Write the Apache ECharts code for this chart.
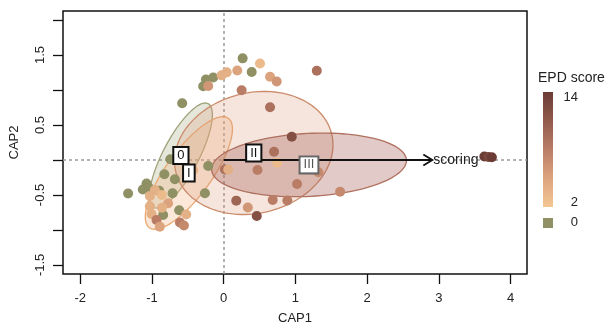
<!DOCTYPE html>
<html><head><meta charset="utf-8">
<script src="https://cdn.jsdelivr.net/npm/echarts@6/dist/echarts.min.js"></script>
<style>html,body{margin:0;padding:0;background:#fff}#c{width:608px;height:333px}</style>
</head><body><div id="c"></div>
<script>
// ---- data ----
const xTicks = [-2, -1, 0, 1, 2, 3, 4];
const yTicks = [-1.5, -1, -0.5, 0, 0.5, 1, 1.5, 2];
const yTickLabels = [-1.5, -0.5, 0.5, 1.5];

// EPD score 0 samples
const cap1Zero = [0.265, 0.391, -0.145, -0.247, -0.285, -0.578, -0.743, -0.827, -0.680, -0.492, -0.215, -1.332, -1.075, -1.127, -1.043, -0.899, -0.712, -0.261, -0.620, -0.844];
const cap2Zero = [1.453, 1.257, 1.179, 1.150, 1.053, 0.810, 0.010, -0.204, -0.276, -0.193, -0.086, -0.479, -0.336, -0.421, -0.393, -0.440, -0.476, -0.476, -0.719, -0.786];

// EPD score >= 2 samples
const cap1Scored = [0.507, 0.190, 0.042, -0.028, -0.215, 0.647, 0.740, 0.251, 1.299, 0.647, 0.950, 0.703, 0.749, 0.472, 0.018, 0.064, 1.321, 1.024, 1.624, 0.176, 0.337, 0.684, 0.888, 0.462, 3.635, 3.691, 3.740, -0.425, -0.959, -1.029, -0.862, -0.774, -1.029, -0.859, -1.006, -0.522, -0.936, -0.890, -0.610, -0.554];
const cap2Scored = [1.379, 1.279, 1.253, 1.210, 1.057, 1.190, 1.121, 0.996, 1.276, 0.753, 0.333, 0.119, -0.039, -0.143, -0.136, -0.136, -0.176, -0.343, -0.453, -0.581, -0.679, -0.571, -0.579, -0.800, 0.050, 0.043, 0.039, -0.143, -0.429, -0.514, -0.500, -0.619, -0.661, -0.683, -0.771, -0.779, -0.857, -0.953, -0.893, -0.936];
const epdScore   = [3, 5, 4, 4, 6, 5, 6, 8, 9, 9, 12, 9, 3, 8, 9, 4, 7, 8, 7, 10, 6, 8, 8, 12, 14, 13, 14, 4, 4, 4, 3, 5, 4, 4, 4, 4, 8, 5, 8, 7];

// group ellipses (centre, semi-axes, rotation in degrees)
const groupNames   = ['0', 'I', 'II', 'III'];
const ellipseCx    = [-0.596, -0.485, 0.42, 1.19];
const ellipseCy    = [0.064, -0.186, 0.10, -0.07];
const ellipseA     = [0.833, 0.956, 1.12, 1.36];
const ellipseB     = [0.25, 0.32, 0.86, 0.45];
const ellipseAngle = [63, 55, 15, 3];

// environmental vector
const vectorName = 'scoring';
const vectorCap1 = 2.91;
const vectorCap2 = 0;

const scoreMin = 2, scoreMax = 14;
const scoreTicks = ['14', '2'];
const zeroLabel = '0';

// ---- styles ----
const FONT = "'Liberation Sans', Arial, sans-serif";
const OLIVE = '#8f9063';
const RAMP = ['#f3c793', '#dca47e', '#b97d66', '#915a4b', '#6b3c36'];
const ellFill = ['rgba(150,155,105,0.24)', 'rgba(242,180,125,0.30)', 'rgba(215,150,120,0.25)', 'rgba(165,95,85,0.33)'];
const ellStroke = ['#a0a27a', '#eaa872', '#cc8c6c', '#b0705f'];
const boxStroke = ['#111', '#111', '#111', '#666'];

const chart = echarts.init(document.getElementById('c'));
const gridL = 63, gridT = 11, gridR = 527, gridB = 274;

const ellData = groupNames.map((g, i) => [ellipseCx[i], ellipseCy[i], ellipseA[i], ellipseB[i], ellipseAngle[i], i]);

chart.setOption({
  animation: false,
  textStyle: { fontFamily: FONT },
  grid: { left: gridL, top: gridT, width: gridR - gridL, height: gridB - gridT, show: true, borderColor: '#111', borderWidth: 1.5, backgroundColor: 'transparent' },
  xAxis: {
    type: 'value', min: -2.24, max: 4.23,
    axisLine: { show: false, onZero: false }, splitLine: { show: false },
    axisTick: { show: true, inside: false, length: 10, customValues: xTicks, lineStyle: { color: '#111', width: 1.3 } },
    axisLabel: { customValues: xTicks, color: '#222', fontSize: 13, margin: 18, fontFamily: FONT },
    name: 'CAP1', nameLocation: 'middle', nameGap: 38, nameTextStyle: { color: '#222', fontSize: 13, fontFamily: FONT }
  },
  yAxis: {
    type: 'value', min: -1.63, max: 2.13,
    axisLine: { show: false, onZero: false }, splitLine: { show: false },
    axisTick: { show: true, inside: false, length: 10, customValues: yTicks, lineStyle: { color: '#111', width: 1.3 } },
    axisLabel: { customValues: yTickLabels, rotate: 90, color: '#222', fontSize: 13, margin: 16, fontFamily: FONT },
    name: 'CAP2', nameLocation: 'middle', nameGap: 42, nameRotate: 90, nameTextStyle: { color: '#222', fontSize: 13, fontFamily: FONT }
  },
  visualMap: [{
    show: false, type: 'continuous', min: scoreMin, max: scoreMax, dimension: 2, seriesIndex: 3,
    inRange: { color: RAMP }
  }],
  graphic: [
    { type: 'text', left: 538, top: 71, style: { text: 'EPD score', fill: '#222', font: '14px ' + FONT } },
    { type: 'rect', left: 543, top: 92, shape: { width: 10, height: 115 },
      style: { fill: new echarts.graphic.LinearGradient(0, 1, 0, 0, RAMP.map((c, i) => ({ offset: i / (RAMP.length - 1), color: c }))) } },
    { type: 'text', right: 608 - 578, top: 91, style: { text: scoreTicks[0], fill: '#222', font: '13px ' + FONT } },
    { type: 'text', right: 608 - 578, top: 196, style: { text: scoreTicks[1], fill: '#222', font: '13px ' + FONT } },
    { type: 'rect', left: 543, top: 218, shape: { width: 10, height: 10 }, style: { fill: OLIVE } },
    { type: 'text', right: 608 - 578, top: 216, style: { text: zeroLabel, fill: '#222', font: '13px ' + FONT } }
  ],
  series: [
    { // zero reference lines
      type: 'scatter', data: [], silent: true, z: 1,
      markLine: { silent: true, z: 1, symbol: 'none', label: { show: false },
        lineStyle: { color: '#9a9a9a', type: [3, 3], width: 1.5 },
        data: [{ xAxis: 0 }, { yAxis: 0 }] }
    },
    { // ellipses
      type: 'custom', z: 2, silent: true, data: ellData,
      renderItem: function (params, api) {
        const cx = api.value(0), cy = api.value(1), a = api.value(2), b = api.value(3);
        const ang = api.value(4) * Math.PI / 180, g = api.value(5);
        const pts = [];
        for (let k = 0; k < 120; k++) {
          const t = 2 * Math.PI * k / 120;
          const ex = a * Math.cos(t), ey = b * Math.sin(t);
          pts.push(api.coord([cx + ex * Math.cos(ang) - ey * Math.sin(ang), cy + ex * Math.sin(ang) + ey * Math.cos(ang)]));
        }
        return { type: 'polygon', shape: { points: pts }, style: { fill: ellFill[g], stroke: ellStroke[g], lineWidth: 1.3 } };
      }
    },
    { // score 0 points
      type: 'scatter', z: 3, symbolSize: 10, silent: true,
      itemStyle: { color: OLIVE, opacity: 1 },
      data: cap1Zero.map((x, i) => [x, cap2Zero[i]])
    },
    { // scored points
      type: 'scatter', z: 3, symbolSize: 10, silent: true,
      itemStyle: { opacity: 1 },
      data: cap1Scored.map((x, i) => [x, cap2Scored[i], epdScore[i]])
    },
    { // vector arrow
      type: 'custom', z: 6, silent: true, data: [[vectorCap1, vectorCap2]],
      renderItem: function (params, api) {
        const o = api.coord([0, 0]);
        const e = api.coord([api.value(0), api.value(1)]);
        return { type: 'group', children: [
          { type: 'line', shape: { x1: o[0], y1: o[1], x2: e[0], y2: e[1] }, style: { stroke: '#111', lineWidth: 2 } },
          { type: 'polyline', shape: { points: [[e[0] - 9, e[1] - 5.5], [e[0], e[1]], [e[0] - 9, e[1] + 5.5]] }, style: { stroke: '#111', lineWidth: 1.8, fill: null } },
          { type: 'text', x: e[0] + 1, y: e[1], style: { text: vectorName, fill: '#222', font: '14px ' + FONT, verticalAlign: 'middle' } }
        ] };
      }
    },
    { // group labels
      type: 'custom', z: 7, silent: true, data: ellData,
      renderItem: function (params, api) {
        const g = api.value(5);
        const p = api.coord([api.value(0), api.value(1)]);
        return { type: 'text', x: p[0], y: p[1], style: {
          text: groupNames[g], fill: g === 3 ? '#555' : '#111', font: '13px ' + FONT,
          align: 'center', verticalAlign: 'middle',
          backgroundColor: '#fff', borderColor: boxStroke[g], borderWidth: 2, padding: [2, 3, 0, 3] } };
      }
    }
  ]
});
</script></body></html>
